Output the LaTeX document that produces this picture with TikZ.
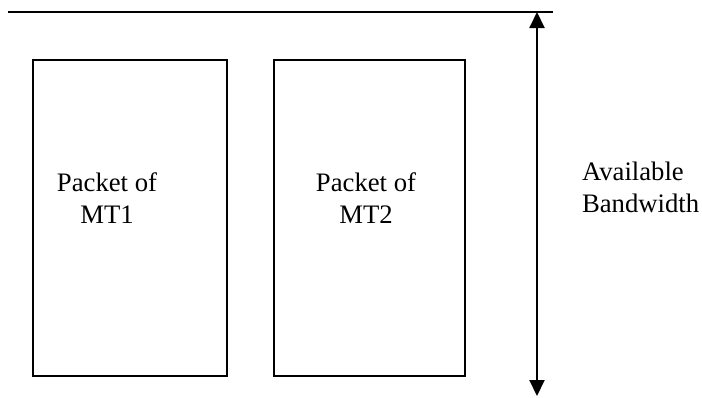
\documentclass[tikz,border=0pt]{standalone}
\usepackage{fontspec}
\setmainfont{Liberation Serif}
\usetikzlibrary{arrows.meta}
\begin{document}
\begin{tikzpicture}[x=1pt,y=-1pt,
  every node/.style={inner sep=0pt, outer sep=0pt},
  packet/.style={draw, line width=2pt, minimum height=316pt, anchor=north west},
  lbl/.style={font=\fontsize{26.7}{32}\selectfont, align=center, anchor=north},
  ln/.style={line width=2pt}]
\useasboundingbox (0,0) rectangle (702,397);
% bandwidth limit line
\coordinate (l0) at (8,12);
\coordinate (l1) at (553,12);
\draw[ln] (l0) -- (l1);
% packets
\node[packet, minimum width=194pt] (p1) at (33,59.5) {};
\node[packet, minimum width=191pt] (p2) at (274,59.5) {};
\node[lbl] (t1) at (107,173) {Packet of\\MT1};
\node[lbl] (t2) at (366,173) {Packet of\\MT2};
% bandwidth arrow
\coordinate (a0) at (537,12);
\coordinate (a1) at (537,396);
\draw[ln, {Triangle[length=16pt,width=15pt]}-{Triangle[length=16pt,width=15pt]}] (a0) -- (a1);
\node[lbl, align=left, anchor=north west] (t3) at (582,162) {Available\\Bandwidth};
\end{tikzpicture}
\end{document}
